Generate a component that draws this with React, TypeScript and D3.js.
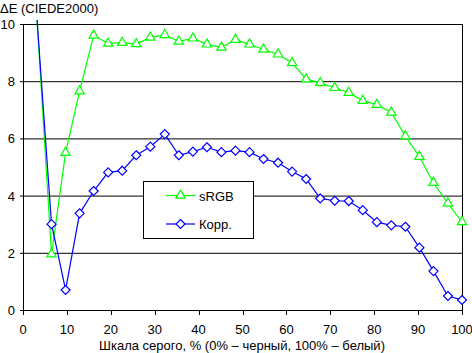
import React, { useEffect, useRef } from 'react';
import * as d3 from 'd3';

// grey level, % (0% = black, 100% = white)
const greyLevels = [3.2, 6.5, 9.7, 12.9, 16.1, 19.4, 22.6, 25.8, 29.0, 32.3, 35.5, 38.7, 41.9, 45.2, 48.4, 51.6,
  54.8, 58.1, 61.3, 64.5, 67.7, 71.0, 74.2, 77.4, 80.6, 83.9, 87.1, 90.3, 93.5, 96.8, 100];
const srgbValues = [10.15, 1.95, 5.5, 7.65, 9.6, 9.32, 9.35, 9.3, 9.53, 9.62, 9.39, 9.5, 9.29, 9.18, 9.45, 9.29,
  9.11, 8.94, 8.64, 8.07, 7.94, 7.77, 7.6, 7.32, 7.18, 6.91, 6.08, 5.36, 4.45, 3.73, 3.08];
const corrValues = [10.15, 3.0, 0.7, 3.38, 4.16, 4.81, 4.87, 5.41, 5.71, 6.15, 5.41, 5.54, 5.69, 5.52, 5.57, 5.52,
  5.28, 5.15, 4.84, 4.58, 3.9, 3.82, 3.81, 3.49, 3.07, 2.96, 2.91, 2.18, 1.36, 0.49, 0.35];
const xTicks = [0, 10, 20, 30, 40, 50, 60, 70, 80, 90, 100];
const yTicks = [0, 2, 4, 6, 8, 10];
const seriesNames = ['sRGB', 'Корр.'];

const W = 472;
const H = 353;
const FONT = '"Liberation Sans", Arial, sans-serif';

const App: React.FC = () => {
  const svgRef = useRef<SVGSVGElement | null>(null);

  useEffect(() => {
    if (!svgRef.current) return;
    const svg = d3.select(svgRef.current);
    svg.selectAll('*').remove();

    const left = 23, right = 462, top = 24, bottom = 310;
    const x = d3.scaleLinear().domain([0, 100]).range([left, right]);
    const y = d3.scaleLinear().domain([0, 10]).range([bottom, top]);

    // clip a little above the top so the first steep segment shows like the original
    svg.append('defs').append('clipPath').attr('id', 'plot-clip')
      .append('rect').attr('x', left).attr('y', top - 4).attr('width', right - left).attr('height', bottom - top + 4);

    // title
    svg.append('text')
      .attr('x', 0).attr('y', 13)
      .attr('font-family', FONT).attr('font-size', 13)
      .text('ΔE (CIEDE2000)');

    // grid
    svg.append('g').selectAll('line')
      .data(yTicks.filter(t => t > 0))
      .join('line')
      .attr('x1', left - 3).attr('x2', right)
      .attr('y1', d => y(d) + 0.5).attr('y2', d => y(d) + 0.5)
      .attr('stroke', '#000');

    // axes
    svg.append('line').attr('x1', left + 0.5).attr('x2', left + 0.5).attr('y1', top).attr('y2', bottom + 1).attr('stroke', '#000');
    svg.append('line').attr('x1', right + 0.5).attr('x2', right + 0.5).attr('y1', top).attr('y2', bottom + 1).attr('stroke', '#000');
    svg.append('line').attr('x1', left - 3).attr('x2', right + 1).attr('y1', bottom + 0.5).attr('y2', bottom + 0.5).attr('stroke', '#000');

    svg.append('g').selectAll('line')
      .data(xTicks)
      .join('line')
      .attr('x1', d => Math.round(x(d)) + 0.5).attr('x2', d => Math.round(x(d)) + 0.5)
      .attr('y1', bottom).attr('y2', bottom + 5)
      .attr('stroke', '#000');

    svg.append('g').selectAll('text')
      .data(xTicks)
      .join('text')
      .attr('x', d => x(d)).attr('y', 334)
      .attr('text-anchor', 'middle')
      .attr('font-family', FONT).attr('font-size', 13)
      .text(d => d);

    svg.append('g').selectAll('text')
      .data(yTicks)
      .join('text')
      .attr('x', 15).attr('y', d => y(d) + 5)
      .attr('text-anchor', 'end')
      .attr('font-family', FONT).attr('font-size', 13)
      .text(d => d);

    svg.append('text')
      .attr('x', 242).attr('y', 350)
      .attr('text-anchor', 'middle')
      .attr('font-family', FONT).attr('font-size', 13)
      .text('Шкала серого, % (0% – черный, 100% – белый)');

    const tri = d3.symbol().type(d3.symbolTriangle).size(38);
    const dia = (s: number) => `M0,${-s}L${s},0L0,${s}L${-s},0Z`;

    const series = [
      { name: seriesNames[0], values: srgbValues, color: '#00ff00', marker: tri() as string },
      { name: seriesNames[1], values: corrValues, color: '#0000ff', marker: dia(4.5) },
    ];

    const line = d3.line<number>()
      .x((_, i) => x(greyLevels[i]))
      .y(d => y(d));

    series.forEach(s => {
      svg.append('path')
        .attr('d', line(s.values))
        .attr('fill', 'none')
        .attr('stroke', s.color)
        .attr('stroke-width', 1.2)
        .attr('clip-path', 'url(#plot-clip)');
    });

    series.forEach(s => {
      svg.append('g').selectAll('path')
        .data(s.values.map((v, i) => ({ v, gx: greyLevels[i] })).filter(d => d.v <= 10))
        .join('path')
        .attr('d', s.marker)
        .attr('transform', d => `translate(${x(d.gx)},${y(d.v)})`)
        .attr('fill', '#fff')
        .attr('stroke', s.color)
        .attr('stroke-width', 1.2);
    });

    // legend
    const lg = svg.append('g');
    lg.append('rect')
      .attr('x', 143.5).attr('y', 181.5).attr('width', 110).attr('height', 57)
      .attr('fill', '#fff').attr('stroke', '#000');
    series.forEach((s, i) => {
      const cy = 195.5 + i * 28.5;
      lg.append('line').attr('x1', 166).attr('x2', 195).attr('y1', cy).attr('y2', cy)
        .attr('stroke', s.color).attr('stroke-width', 1.2);
      lg.append('path').attr('d', s.marker)
        .attr('transform', `translate(180.5,${cy})`)
        .attr('fill', '#fff').attr('stroke', s.color).attr('stroke-width', 1.2);
      lg.append('text')
        .attr('x', 199).attr('y', cy + 5)
        .attr('font-family', FONT).attr('font-size', 13)
        .text(s.name);
    });
  }, []);

  return (
    <svg
      ref={svgRef}
      width={W}
      height={H}
      style={{ position: 'absolute', left: 0, top: 0, background: '#fff' }}
    />
  );
};

export default App;
